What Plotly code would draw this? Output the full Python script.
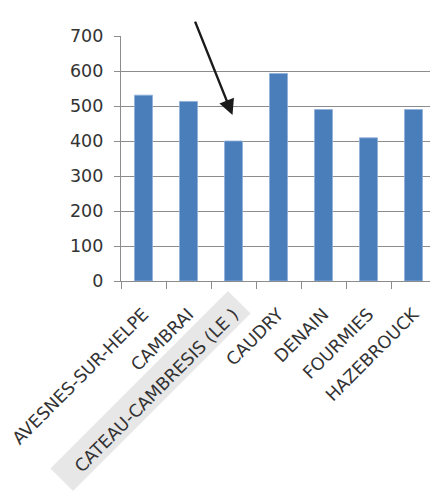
import math
import plotly.graph_objects as go

# Communes and their values
communes = [
    "AVESNES-SUR-HELPE",
    "CAMBRAI",
    "CATEAU-CAMBRESIS (LE )",
    "CAUDRY",
    "DENAIN",
    "FOURMIES",
    "HAZEBROUCK",
]
valeurs = [531, 513, 400, 593, 490, 409, 490]
y_ticks = [0, 100, 200, 300, 400, 500, 600, 700]
commune_signalee = "CATEAU-CAMBRESIS (LE )"

W, H = 430, 499
M_L, M_T, M_B = 121, 36, 218
PLOT_W = W - M_L
PLOT_H = H - M_T - M_B
CAT_PX = 45.0  # pixel width of one category slot

fig = go.Figure(
    go.Bar(
        x=communes,
        y=valeurs,
        width=0.4,
        marker=dict(color="#4a7ebb", line=dict(color="#8fb0da", width=0.8)),
    )
)

grid = "#8c8c8c"
font = dict(family="DejaVu Sans", size=17.5, color="#333333")

fig.update_layout(
    width=W,
    height=H,
    margin=dict(l=M_L, r=0, t=M_T, b=M_B, pad=0),
    paper_bgcolor="white",
    plot_bgcolor="white",
    showlegend=False,
    font=font,
    bargap=0.6,
)
fig.update_xaxes(
    type="category",
    range=[-0.5, -0.5 + PLOT_W / CAT_PX],
    showline=True,
    linecolor=grid,
    linewidth=1.3,
    ticks="outside",
    tickson="boundaries",
    ticklen=7,
    tickcolor=grid,
    tickwidth=1.3,
    tickangle=-45,
    showgrid=False,
    tickfont=font,
    ticklabelstandoff=15,
)
fig.update_yaxes(
    range=[0, 700],
    tickvals=y_ticks,
    showline=True,
    linecolor=grid,
    linewidth=1.3,
    ticks="outside",
    ticklen=6,
    tickcolor=grid,
    tickwidth=1.3,
    showgrid=True,
    gridcolor=grid,
    gridwidth=1.3,
    zeroline=False,
    tickfont=font,
    ticklabelstandoff=7,
)

# Light grey band behind the highlighted commune's label
cx, cy = 150.5, 391.0      # centre in pixels
half_len, half_wid = 125.5, 16.0
ux, uy = 1 / math.sqrt(2), -1 / math.sqrt(2)
vx, vy = 1 / math.sqrt(2), 1 / math.sqrt(2)
corners = []
for a, b in [(1, -1), (1, 1), (-1, 1), (-1, -1)]:
    px = cx + a * half_len * ux + b * half_wid * vx
    py = cy + a * half_len * uy + b * half_wid * vy
    corners.append(((px - M_L) / PLOT_W, (M_T + PLOT_H - py) / PLOT_H))
path = "M " + " L ".join(f"{x:.5f},{y:.5f}" for x, y in corners) + " Z"
fig.add_shape(
    type="path",
    path=path,
    xref="paper",
    yref="paper",
    fillcolor="#e7e7e7",
    line=dict(width=0),
    layer="below",
)

# Arrow pointing at the highlighted commune
fig.add_annotation(
    x=commune_signalee,
    y=474,
    xshift=-1,
    ax=-38,
    ay=-95,
    text="",
    showarrow=True,
    arrowhead=2,
    arrowsize=1.3,
    arrowwidth=2.4,
    arrowcolor="#1a1a1a",
)

fig.write_html("out.html")
